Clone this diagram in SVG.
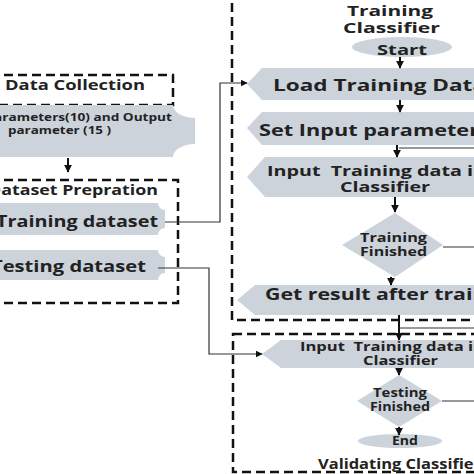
<svg xmlns="http://www.w3.org/2000/svg" width="474" height="474" viewBox="0 0 474 474">
<defs>
<marker id="ah" viewBox="0 0 10 10" refX="9" refY="5" markerWidth="4" markerHeight="4" orient="auto" markerUnits="strokeWidth">
<path d="M0,0 L10,5 L0,10 Z" fill="#111"/>
</marker>
<marker id="ahs" viewBox="0 0 10 10" refX="9" refY="5" markerWidth="6" markerHeight="6" orient="auto" markerUnits="strokeWidth">
<path d="M0,0 L10,5 L0,10 Z" fill="#111"/>
</marker>
</defs>
<style>
.box{fill:none;stroke:#111;stroke-width:2.5;stroke-dasharray:9 5}
.node{fill:#ccd3db}
.t{font-family:"Open Sans","DejaVu Sans",sans-serif;font-weight:bold;fill:#222}
.arr{fill:none;stroke:#111;stroke-width:2;marker-end:url(#ah)}
.ln{fill:none;stroke:#333;stroke-width:1.2}
.lna{fill:none;stroke:#333;stroke-width:1.2;marker-end:url(#ahs)}
</style>
<rect width="474" height="474" fill="#fff"/>

<g id="data-collection">
<rect class="box" x="-10" y="75" width="183" height="30"/>
<text class="t" x="5" y="90" font-size="13.5" textLength="140" lengthAdjust="spacingAndGlyphs">Data Collection</text>
</g>
<g id="io-params">
<path class="node" d="M-10,105 H173 A22 13 0 0 0 195,118 V144 A22 13 0 0 0 173,157 H-10 Z"/>
<text class="t" x="-55" y="121" font-size="11" textLength="227" lengthAdjust="spacingAndGlyphs">Input parameters(10) and Output</text>
<text class="t" x="8" y="134" font-size="11" textLength="103" lengthAdjust="spacingAndGlyphs">parameter (15 )</text>
</g>

<g id="dataset-prep">
<rect class="box" x="-10" y="180" width="188" height="123"/>
<text class="t" x="-12" y="195" font-size="13.5" textLength="170" lengthAdjust="spacingAndGlyphs">Dataset Prepration</text>
</g>
<g id="training-dataset">
<path class="node" d="M-10,203 H158 A7 7 0 0 0 165,210 V228 A7 7 0 0 0 158,235 H-10 Z"/>
<text class="t" x="-4" y="227" font-size="16.5" textLength="162" lengthAdjust="spacingAndGlyphs">Training dataset</text>
</g>
<g id="testing-dataset">
<path class="node" d="M-10,250 H158 A7 7 0 0 0 165,257 V273 A7 7 0 0 0 158,280 H-10 Z"/>
<text class="t" x="-9" y="272" font-size="16.5" textLength="155" lengthAdjust="spacingAndGlyphs">Testing dataset</text>
</g>

<g id="training-classifier">
<rect class="box" x="232" y="-10" width="262" height="330"/>
<text class="t" x="347" y="16" font-size="15" textLength="86" lengthAdjust="spacingAndGlyphs">Training</text>
<text class="t" x="343" y="33" font-size="15" textLength="97" lengthAdjust="spacingAndGlyphs">Classifier</text>
</g>
<g id="start">
<ellipse class="node" cx="402" cy="47" rx="50" ry="10"/>
<text class="t" x="377" y="55" font-size="15" textLength="50" lengthAdjust="spacingAndGlyphs">Start</text>
</g>
<g id="load-training-data">
<path class="node" d="M247,84 L262,68 H490 V100 H262 Z"/>
<text class="t" x="273" y="91" font-size="16.5" textLength="213" lengthAdjust="spacingAndGlyphs">Load Training Data</text>
</g>
<g id="set-input-parameter">
<path class="node" d="M247,128 L262,112 H490 V145 H262 Z"/>
<text class="t" x="259" y="136" font-size="16.5" textLength="220" lengthAdjust="spacingAndGlyphs">Set Input parameter</text>
</g>
<g id="input-training-data">
<path class="node" d="M247,177 L265,157 H490 V197 H265 Z"/>
<text class="t" x="267" y="176" font-size="14.5" textLength="219" lengthAdjust="spacingAndGlyphs" xml:space="preserve">Input  Training data in</text>
<text class="t" x="340" y="192" font-size="14.5" textLength="90" lengthAdjust="spacingAndGlyphs">Classifier</text>
</g>
<g id="training-finished">
<path class="node" d="M395,213 L443,245 L395,277 L342,245 Z"/>
<text class="t" x="360" y="242" font-size="12" textLength="67" lengthAdjust="spacingAndGlyphs">Training</text>
<text class="t" x="360" y="256" font-size="12" textLength="67" lengthAdjust="spacingAndGlyphs">Finished</text>
</g>
<g id="get-result">
<path class="node" d="M237,300 L255,285 H490 V315 H255 Z"/>
<text class="t" x="265" y="300" font-size="16.5" textLength="254" lengthAdjust="spacingAndGlyphs">Get result after training</text>
</g>

<g id="validating-classifier">
<rect class="box" x="233" y="334" width="262" height="138"/>
<text class="t" x="318" y="469" font-size="13.5" textLength="163" lengthAdjust="spacingAndGlyphs">Validating Classifier</text>
</g>
<g id="input-testing-data">
<path class="node" d="M262,354 L281,340 H490 V368 H281 Z"/>
<text class="t" x="300" y="351" font-size="12.5" textLength="184" lengthAdjust="spacingAndGlyphs" xml:space="preserve">Input  Training data in</text>
<text class="t" x="363" y="365" font-size="12.5" textLength="75" lengthAdjust="spacingAndGlyphs">Classifier</text>
</g>
<g id="testing-finished">
<path class="node" d="M399,375 L442,401 L399,427 L357,401 Z"/>
<text class="t" x="373" y="397" font-size="12" textLength="54" lengthAdjust="spacingAndGlyphs">Testing</text>
<text class="t" x="370" y="411" font-size="12" textLength="60" lengthAdjust="spacingAndGlyphs">Finished</text>
</g>
<g id="end">
<ellipse class="node" cx="400" cy="441" rx="42" ry="7"/>
<text class="t" x="392" y="445" font-size="11.5" textLength="26" lengthAdjust="spacingAndGlyphs">End</text>
</g>

<g id="connectors">
<path class="arr" d="M68,158 V172"/>
<path class="arr" d="M400,57 V68"/>
<path class="arr" d="M400,100 V112"/>
<path class="arr" d="M397,145 V157"/>
<path class="arr" d="M395,197 V212"/>
<path class="arr" d="M391,277 V285"/>
<path class="arr" d="M399,315 V340"/>
<path class="arr" d="M399,368 V375"/>
<path class="arr" d="M399,427 V435"/>
<path class="ln" d="M443,247 H484 V148 H399"/>
<path class="ln" d="M442,401 H484 V328 H399"/>
<path class="lna" d="M165,222 H220 V83 H247"/>
<path class="lna" d="M158,268 H209 V354 H262"/>
</g>
</svg>
